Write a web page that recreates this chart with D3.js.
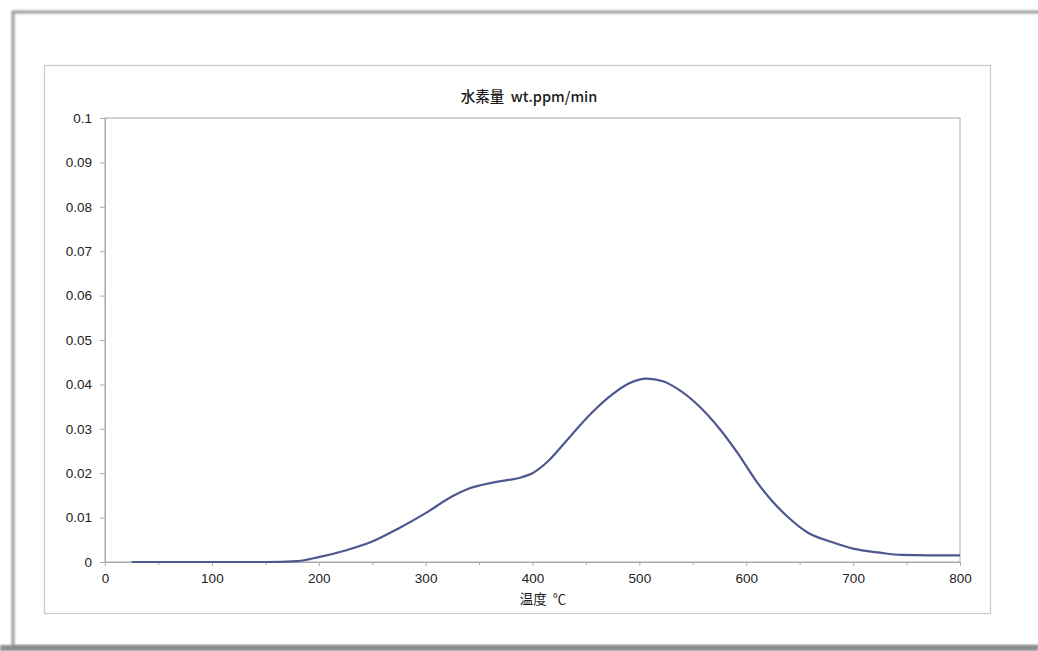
<!DOCTYPE html>
<html>
<head>
<meta charset="utf-8">
<script src="https://cdn.jsdelivr.net/npm/d3@7"></script>
<style>
  html, body { margin: 0; padding: 0; background: #fff; }
  svg { display: block; }
</style>
</head>
<body>
<svg id="chart" width="1038" height="651"></svg>
<script>
// ---- data ----
const temps  = [25, 50, 100, 150, 180, 200, 225, 250, 275, 300, 325, 340, 365, 390, 400, 415, 430, 455, 475, 490, 507, 522, 535, 555, 575, 592, 610, 625, 640, 657, 680, 700, 725, 745, 770, 800];
const values = [0, 0, 0, 0, 0.0002, 0.0011, 0.0026, 0.0046, 0.0076, 0.0110, 0.0148, 0.0165, 0.0180, 0.0191, 0.0200, 0.0228, 0.0268, 0.0335, 0.0378, 0.0402, 0.0413, 0.0407, 0.0391, 0.0353, 0.0300, 0.0245, 0.0180, 0.0135, 0.0099, 0.0067, 0.0045, 0.0030, 0.0021, 0.0016, 0.0015, 0.0015];
const yTicks = [0, 0.01, 0.02, 0.03, 0.04, 0.05, 0.06, 0.07, 0.08, 0.09, 0.1];
const yTickLabels = ["0", "0.01", "0.02", "0.03", "0.04", "0.05", "0.06", "0.07", "0.08", "0.09", "0.1"];
const xTicks = [0, 100, 200, 300, 400, 500, 600, 700, 800];
const xMinorTicks = [50, 150, 250, 350, 450, 550, 650, 750];
const titleText = "水素量\u00a0\u00a0wt.ppm/min";
const xTitleText = "温度\u00a0\u00a0℃";

const svg = d3.select("#chart");
const numFont = "'Liberation Sans', Arial, sans-serif";
const jpFont = "'Noto Sans CJK JP', sans-serif";

// outer screenshot frame with shadow
const defs = svg.append("defs");
const f = defs.append("filter").attr("id", "blur").attr("x", "-5%").attr("y", "-5%").attr("width", "110%").attr("height", "110%");
f.append("feGaussianBlur").attr("stdDeviation", 1.2);
svg.append("path")
  .attr("d", "M1040,12 L13,12 L13,647 L1040,647")
  .attr("fill", "none").attr("stroke", "#9a9a9a").attr("stroke-width", 3).attr("filter", "url(#blur)");
svg.append("rect").attr("x", 0).attr("y", 645).attr("width", 1038).attr("height", 6).attr("fill", "#8e8e8e").attr("filter", "url(#blur)");

// chart frame
svg.append("rect").attr("x", 44.5).attr("y", 65.5).attr("width", 946).attr("height", 548)
  .attr("fill", "#fff").attr("stroke", "#c9cccc").attr("stroke-width", 1.3);

const L = 105, R = 960, T = 118, B = 562;
const x = d3.scaleLinear().domain([0, 800]).range([L, R]);
const y = d3.scaleLinear().domain([0, 0.1]).range([B, T]);

// plot area border
svg.append("rect").attr("x", L).attr("y", T).attr("width", R - L).attr("height", B - T)
  .attr("fill", "none").attr("stroke", "#b4b8b8").attr("stroke-width", 1.2);

// y axis
const yAxis = d3.axisLeft(y).tickValues(yTicks)
  .tickFormat((d, i) => yTickLabels[i]).tickSize(5).tickPadding(8);
const gy = svg.append("g").attr("transform", `translate(${L},0)`).call(yAxis);
gy.select(".domain").attr("stroke", "#a8acac");
gy.selectAll(".tick line").attr("stroke", "#a8acac");
gy.selectAll(".tick text").attr("font-family", numFont).attr("font-size", 13.5).attr("fill", "#222");

// x axis
const xAxis = d3.axisBottom(x).tickValues(xTicks).tickSize(4).tickPadding(7);
const gx = svg.append("g").attr("transform", `translate(0,${B})`).call(xAxis);
gx.select(".domain").attr("stroke", "#a8acac");
gx.selectAll(".tick line").attr("stroke", "#a8acac");
gx.selectAll(".tick text").attr("font-family", numFont).attr("font-size", 13.5).attr("fill", "#222");
const xMinor = d3.axisBottom(x).tickValues(xMinorTicks).tickSize(3).tickFormat("");
const gxm = svg.append("g").attr("transform", `translate(0,${B})`).call(xMinor);
gxm.select(".domain").remove();
gxm.selectAll(".tick line").attr("stroke", "#a8acac");

// line
const line = d3.line().x((d, i) => x(temps[i])).y(d => y(d)).curve(d3.curveMonotoneX);
svg.append("path").datum(values)
  .attr("d", line)
  .attr("fill", "none").attr("stroke", "#4d5790").attr("stroke-width", 2.2)
  .attr("stroke-linejoin", "round");

// titles
svg.append("text").attr("x", 529).attr("y", 102).attr("text-anchor", "middle")
  .attr("font-family", jpFont).attr("font-size", 14.5).attr("font-weight", 500).attr("fill", "#1a1a1a").text(titleText);
svg.append("text").attr("x", 543).attr("y", 604).attr("text-anchor", "middle")
  .attr("font-family", jpFont).attr("font-size", 13.5).attr("fill", "#1a1a1a").text(xTitleText);
</script>
</body>
</html>
